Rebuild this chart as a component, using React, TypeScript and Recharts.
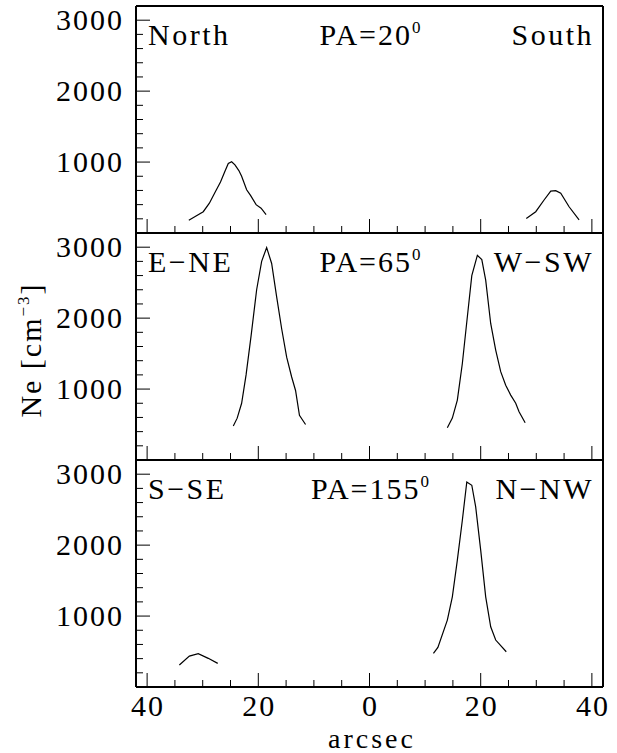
import { Line, LineChart, XAxis, YAxis } from "recharts";

// arcsec offsets: negative = left half of the plot (labelled as positive)
const xTicks = [-40, -35, -30, -25, -20, -15, -10, -5, 0, 5, 10, 15, 20, 25, 30, 35, 40];
const xMajor = [-40, -20, 0, 20, 40];
const neTicks = [0, 200, 400, 600, 800, 1000, 1200, 1400, 1600, 1800, 2000, 2200, 2400, 2600, 2800, 3000, 3200];
const neMajor = [1000, 2000, 3000];

// PA=20
const northX = [-32.5, -31.2, -29.9, -28.8, -27.8, -26.8, -26.0, -25.4, -24.8, -24.2, -23.5, -23.0, -22.1, -21.4, -20.4, -19.5, -18.6];
const northNe = [180, 240, 300, 420, 570, 720, 870, 980, 1005, 960, 880, 800, 610, 530, 400, 350, 260];
const southX = [28.2, 29.9, 31.4, 32.6, 33.5, 34.4, 35.9, 37.7];
const southNe = [205, 300, 465, 590, 596, 560, 370, 185];

// PA=65
const eneX = [-24.5, -23.8, -23.0, -22.2, -21.3, -20.3, -19.4, -18.5, -17.6, -16.7, -15.8, -14.9, -14.0, -13.3, -12.6, -11.5];
const eneNe = [480, 590, 800, 1200, 1750, 2400, 2800, 2995, 2770, 2300, 1850, 1450, 1170, 980, 630, 500];
const wswX = [14.0, 14.9, 15.8, 16.7, 17.6, 18.4, 19.4, 20.2, 20.9, 21.8, 22.7, 23.6, 24.5, 25.4, 26.3, 26.9, 28.0];
const wswNe = [455, 590, 845, 1360, 2020, 2600, 2885, 2825, 2535, 1925, 1550, 1245, 1055, 915, 800, 680, 525];

// PA=155
const sseX = [-34.2, -32.4, -30.8, -29.0, -27.3];
const sseNe = [310, 436, 469, 404, 333];
const nnwX = [11.5, 12.3, 14.0, 14.9, 15.8, 16.7, 17.5, 18.4, 19.1, 20.0, 20.9, 21.8, 22.7, 24.6];
const nnwNe = [474, 559, 943, 1271, 1788, 2351, 2891, 2844, 2539, 1929, 1271, 849, 662, 497];

const panelNames = [
  ["North", "20", "South"],
  ["E\u2212NE", "65", "W\u2212SW"],
  ["S\u2212SE", "155", "N\u2212NW"],
];

const zip = (xs: number[], ys: number[]) => xs.map((x, i) => ({ x, ne: ys[i] }));

const panels = [
  { left: zip(northX, northNe), right: zip(southX, southNe) },
  { left: zip(eneX, eneNe), right: zip(wswX, wswNe) },
  { left: zip(sseX, sseNe), right: zip(nnwX, nnwNe) },
];

const txt = { fontFamily: "Liberation Serif, Times New Roman, serif" };
const FS = 30;
const W = 617;
const PLOT_L = 136;
const PLOT_R = 603;
const PANEL_H = 227;
const FIRST_TOP = 6;
const PAD = 6;
const BIG = 14;
const SMALL = 7;
const frame = { stroke: "#000", strokeWidth: 2 };

function Panel({ index }: { index: number }) {
  const last = index === panels.length - 1;
  const bottomH = last ? 66 : PAD;
  const plotTop = PAD;
  const plotBottom = PAD + PANEL_H;
  const p = panels[index];

  const bottomTick = (props: any) => {
    const v = props.payload.value;
    const len = xMajor.includes(v) ? BIG : SMALL;
    return (
      <g>
        <line x1={props.x} x2={props.x} y1={plotBottom} y2={plotBottom - len} stroke="#000" />
        {last && xMajor.includes(v) && (
          <text x={props.x + 1} y={plotBottom + 29} textAnchor="middle" style={txt} fontSize={FS} letterSpacing={2} fill="#000">
            {Math.abs(v)}
          </text>
        )}
      </g>
    );
  };
  const topTick = (props: any) => {
    const len = xMajor.includes(props.payload.value) ? BIG : SMALL;
    return <line x1={props.x} x2={props.x} y1={plotTop} y2={plotTop + len} stroke="#000" />;
  };
  const leftTick = (props: any) => {
    const v = props.payload.value;
    const major = neMajor.includes(v);
    return (
      <g>
        <line x1={PLOT_L} x2={PLOT_L + (major ? BIG : SMALL)} y1={props.y} y2={props.y} stroke="#000" />
        {major && (
          <text x={PLOT_L - 12} y={props.y + 10} textAnchor="end" style={txt} fontSize={FS} letterSpacing={2} fill="#000">
            {v}
          </text>
        )}
      </g>
    );
  };
  const rightTick = (props: any) => {
    const len = neMajor.includes(props.payload.value) ? BIG : SMALL;
    return <line x1={PLOT_R} x2={PLOT_R - len} y1={props.y} y2={props.y} stroke="#000" />;
  };

  return (
    <div style={{ position: "absolute", left: 0, top: FIRST_TOP + index * PANEL_H - PAD }}>
      <LineChart width={W} height={PAD + PANEL_H + bottomH} margin={{ top: 0, right: 0, bottom: 0, left: 0 }}>
        <XAxis
          type="number"
          dataKey="x"
          domain={[-42, 42]}
          ticks={xTicks}
          interval={0}
          height={bottomH}
          axisLine={frame}
          tickLine={false}
          tick={bottomTick}
        />
        <XAxis
          xAxisId="t"
          orientation="top"
          type="number"
          dataKey="x"
          domain={[-42, 42]}
          ticks={xTicks}
          interval={0}
          height={PAD}
          axisLine={frame}
          tickLine={false}
          tick={topTick}
        />
        <YAxis
          type="number"
          domain={[0, 3200]}
          ticks={neTicks}
          interval={0}
          width={PLOT_L}
          axisLine={frame}
          tickLine={false}
          tick={leftTick}
        />
        <YAxis
          yAxisId="r"
          orientation="right"
          type="number"
          domain={[0, 3200]}
          ticks={neTicks}
          interval={0}
          width={W - PLOT_R}
          axisLine={frame}
          tickLine={false}
          tick={rightTick}
        />
        <Line data={p.left} dataKey="ne" type="linear" stroke="#000" strokeWidth={1.2} dot={false} isAnimationActive={false} />
        <Line data={p.right} dataKey="ne" type="linear" stroke="#000" strokeWidth={1.2} dot={false} isAnimationActive={false} />
      </LineChart>
    </div>
  );
}

export default function App() {
  return (
    <div style={{ position: "absolute", left: 0, top: 0, width: W, height: 753, background: "#fff" }}>
      {panels.map((_, i) => (
        <Panel key={i} index={i} />
      ))}
      <svg width={W} height={753} style={{ position: "absolute", left: 0, top: 0, pointerEvents: "none" }}>
        <g style={txt} fontSize={FS} fill="#000">
          {panelNames.map(([l, pa, r], i) => {
            const base = FIRST_TOP + i * PANEL_H + 39;
            return (
              <g key={i}>
                <text x={148} y={base} letterSpacing={2.5}>{l}</text>
                <text x={371} y={base} textAnchor="middle" letterSpacing={2}>
                  PA={pa}
                  <tspan fontSize={17} dy={-12}>0</tspan>
                </text>
                <text x={594} y={base} textAnchor="end" letterSpacing={2.5}>{r}</text>
              </g>
            );
          })}
          <text x={372} y={748} textAnchor="middle" fontSize={28} letterSpacing={3}>arcsec</text>
          <text transform="translate(41 350) rotate(-90)" textAnchor="middle" letterSpacing={2}>
            Ne [cm
            <tspan fontSize={17} dy={-12}>{"\u22123"}</tspan>
            <tspan dy={12}>]</tspan>
          </text>
        </g>
      </svg>
    </div>
  );
}
